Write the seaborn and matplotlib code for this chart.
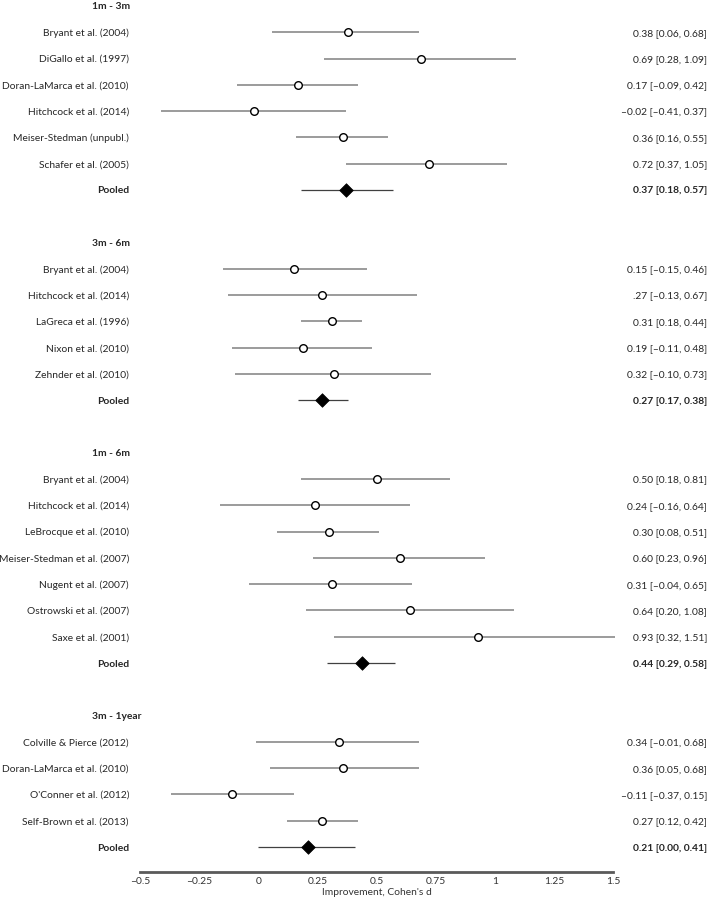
import matplotlib
matplotlib.use("Agg")
import matplotlib.pyplot as plt
import matplotlib.transforms as mtransforms
import pandas as pd
import seaborn as sns

# follow-up windows
groups = ["1m - 3m", "3m - 6m", "1m - 6m", "3m - 1year"]

# 1m - 3m
names_a = ["Bryant et al. (2004)", "DiGallo et al. (1997)", "Doran-LaMarca et al. (2010)",
           "Hitchcock et al. (2014)", "Meiser-Stedman (unpubl.)", "Schafer et al. (2005)"]
d_a = [0.38, 0.69, 0.17, -0.02, 0.36, 0.72]
lo_a = [0.06, 0.28, -0.09, -0.41, 0.16, 0.37]
hi_a = [0.68, 1.09, 0.42, 0.37, 0.55, 1.05]

# 3m - 6m
names_b = ["Bryant et al. (2004)", "Hitchcock et al. (2014)", "LaGreca et al. (1996)",
           "Nixon et al. (2010)", "Zehnder et al. (2010)"]
d_b = [0.15, 0.27, 0.31, 0.19, 0.32]
lo_b = [-0.15, -0.13, 0.18, -0.11, -0.10]
hi_b = [0.46, 0.67, 0.44, 0.48, 0.73]

# 1m - 6m
names_c = ["Bryant et al. (2004)", "Hitchcock et al. (2014)", "LeBrocque et al. (2010)",
           "Meiser-Stedman et al. (2007)", "Nugent et al. (2007)", "Ostrowski et al. (2007)",
           "Saxe et al. (2001)"]
d_c = [0.50, 0.24, 0.30, 0.60, 0.31, 0.64, 0.93]
lo_c = [0.18, -0.16, 0.08, 0.23, -0.04, 0.20, 0.32]
hi_c = [0.81, 0.64, 0.51, 0.96, 0.65, 1.08, 1.51]

# 3m - 1year
names_d = ["Colville & Pierce (2012)", "Doran-LaMarca et al. (2010)",
           "O'Conner et al. (2012)", "Self-Brown et al. (2013)"]
d_d = [0.34, 0.36, -0.11, 0.27]
lo_d = [-0.01, 0.05, -0.37, 0.12]
hi_d = [0.68, 0.68, 0.15, 0.42]

# pooled estimates per window
pooled_d = [0.37, 0.27, 0.44, 0.21]
pooled_lo = [0.18, 0.17, 0.29, 0.00]
pooled_hi = [0.57, 0.38, 0.58, 0.41]

xticks = [-0.5, -0.25, 0, 0.25, 0.5, 0.75, 1, 1.25, 1.5]
xtick_labels = ["\u20130.5", "\u20130.25", "0", "0.25", "0.5", "0.75", "1", "1.25", "1.5"]


def fmt(v):
    s = f"{abs(v):.2f}"
    return ("\u2013" + s) if v < 0 else s


def ci_label(d, lo, hi):
    return f"{fmt(d)} [{fmt(lo)}, {fmt(hi)}]"


# the source table prints this one without the leading zero
label_override = {("3m - 6m", "Hitchcock et al. (2014)"): ".27 [\u20130.13, 0.67]"}

# build rows: header, studies, pooled, blank
rows = []
head_rows = []
r = 0
for g, names, d, lo, hi, pd_, plo, phi in zip(
        groups, [names_a, names_b, names_c, names_d], [d_a, d_b, d_c, d_d],
        [lo_a, lo_b, lo_c, lo_d], [hi_a, hi_b, hi_c, hi_d],
        pooled_d, pooled_lo, pooled_hi):
    head_rows.append((g, r))
    r += 1
    for n, v, l, h in zip(names, d, lo, hi):
        lab = label_override.get((g, n), ci_label(v, l, h))
        rows.append(dict(name=n, d=v, lo=l, hi=h, y=r, kind="study", lab=lab))
        r += 1
    rows.append(dict(name="Pooled", d=pd_, lo=plo, hi=phi, y=r, kind="pooled",
                     lab=ci_label(pd_, plo, phi)))
    r += 2

df = pd.DataFrame(rows)
st = df[df.kind == "study"]
po = df[df.kind == "pooled"]

sns.set_theme(style="white")
plt.rcParams['font.family'] = ['Lato', 'DejaVu Sans']

W, H = 709, 904
fs = 7.4
fig = plt.figure(figsize=(W / 100, H / 100), dpi=100)
ax = fig.add_axes([140 / W, 31 / H, 473 / W, 873 / H])

ax.hlines(st.y, st.lo, st.hi, color="#8a8a8a", lw=1.2, zorder=1, clip_on=False)
ax.hlines(po.y, po.lo, po.hi, color="#404040", lw=0.9, zorder=1, clip_on=False)
sns.scatterplot(data=st, x="d", y="y", marker="o", s=30, color="white",
                edgecolor="black", linewidth=1.0, zorder=3, ax=ax, clip_on=False)
sns.scatterplot(data=po, x="d", y="y", marker="D", s=48, color="black",
                edgecolor="black", linewidth=0.5, zorder=3, ax=ax, clip_on=False)

ax.set_xlim(-0.5, 1.5)
ax.set_ylim(32.95, -0.266)
ax.set_yticks([])
ax.set_xticks(xticks)
ax.set_xticklabels(xtick_labels, fontsize=fs, color="#333333")
ax.tick_params(axis="x", length=0, pad=3)
for s in ["top", "left", "right"]:
    ax.spines[s].set_visible(False)
ax.spines["bottom"].set_color("#5a5a5a")
ax.spines["bottom"].set_linewidth(2)
ax.set_xlabel("Improvement, Cohen's d", fontsize=fs, color="#333333", labelpad=1)
ax.set_ylabel("")

trans = mtransforms.blended_transform_factory(fig.transFigure, ax.transData)
txt = "#262626"
for g, y in head_rows:
    ax.text(92 / W, y, g, transform=trans, ha="left", va="center",
            fontsize=fs, fontweight="bold", color=txt)
for _, row in df.iterrows():
    bold = "bold" if row.kind == "pooled" else "normal"
    ax.text(129 / W, row.y, row["name"], transform=trans, ha="right", va="center",
            fontsize=fs, fontweight=bold, color=txt)
    ax.text(707 / W, row.y, row.lab, transform=trans, ha="right", va="center",
            fontsize=fs, fontweight=bold, color=txt)

fig.savefig("out.png", dpi=100)
